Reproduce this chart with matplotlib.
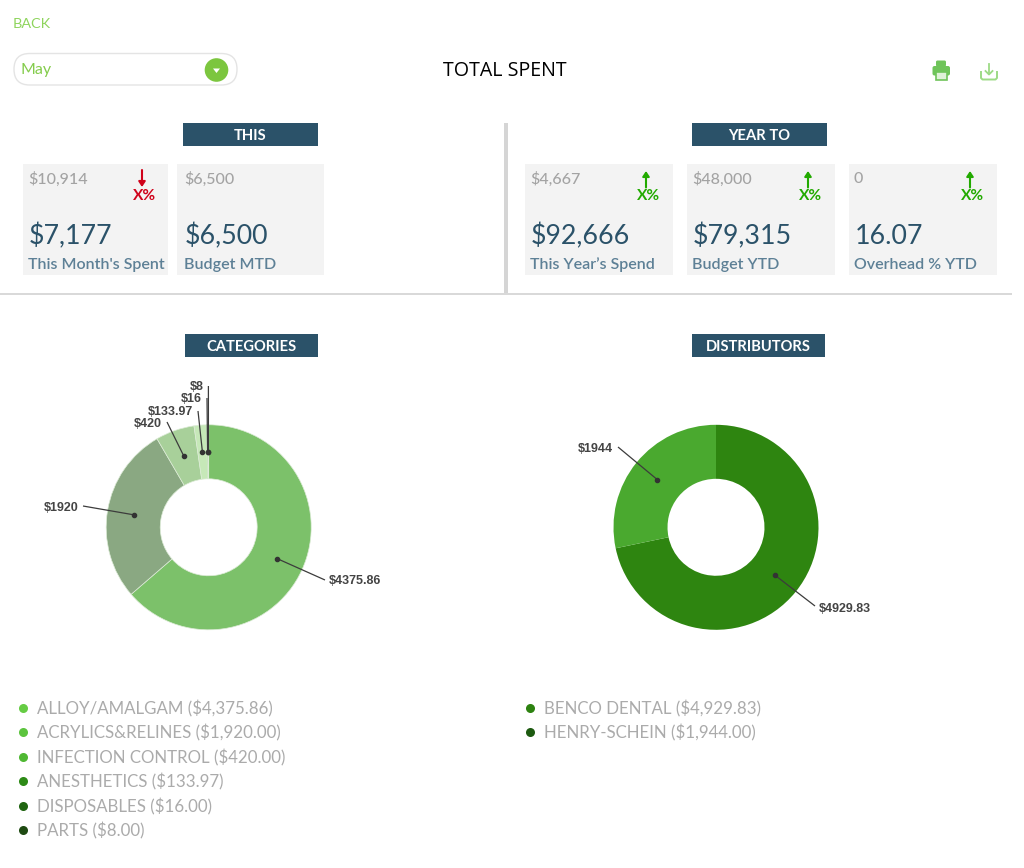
# Total spent dashboard

# Load Libraries
import matplotlib
matplotlib.use('Agg')
import numpy as np
import matplotlib.pyplot as plt
from matplotlib.patches import Rectangle, FancyBboxPatch, Circle, Polygon

W, H = 1024, 868

# Data
categories = ['ALLOY/AMALGAM', 'ACRYLICS&RELINES', 'INFECTION CONTROL',
              'ANESTHETICS', 'DISPOSABLES', 'PARTS']
category_values = [4375.86, 1920.00, 420.00, 133.97, 16.00, 8.00]
category_labels = ['$4375.86', '$1920', '$420', '$133.97', '$16', '$8']

distributors = ['BENCO DENTAL', 'HENRY-SCHEIN']
distributor_values = [4929.83, 1944.00]
distributor_labels = ['$4929.83', '$1944']

card_top = ['$10,914', '$6,500', '$4,667', '$48,000', '0']
card_main = ['$7,177', '$6,500', '$92,666', '$79,315', '16.07']
card_names = ["This Month's Spent", 'Budget MTD', 'This Year\u2019s Spend', 'Budget YTD', 'Overhead % YTD']
card_trend = ['down', None, 'up', 'up', 'up']

# Styles
NAVY = '#2b5269'
GREEN = '#7cc63f'
GREY = '#a3a3a3'
category_colors = ['#7cc16a', '#8aa882', '#a8d09a', '#c6e8b8', '#7cc16a', '#8aa882']
distributor_colors = ['#2e8510', '#4aa92f']
category_dots = ['#66cc44', '#5cc43e', '#4fb833', '#2d8a16', '#1f6410', '#1e4a12']
distributor_dots = ['#2d8210', '#1d5a10']
card_x = [(23, 168), (177, 324), (525, 673), (687, 835), (849, 997)]
card_pad = [5, 7, 5, 5, 5]
trend_x = [142, None, 646, 808, 970]

plt.rcParams['font.family'] = ['Lato', 'DejaVu Sans']

fig = plt.figure(figsize=(W / 100, H / 100), dpi=100)
fig.patch.set_facecolor('white')


def px(size):
    return size * 0.72


def donut(values, colors, cx, cy, edge, r=102.5):
    pie_ax = fig.add_axes([(cx - r) / W, 1 - (cy + r) / H, 2 * r / W, 2 * r / H])
    pie_ax.pie(values, colors=colors, startangle=90, counterclock=False, radius=1,
               wedgeprops=dict(width=0.527, linewidth=0.5, edgecolor=edge))
    pie_ax.set_xlim(-1, 1)
    pie_ax.set_ylim(-1, 1)
    # Middle of each slice, for the leader dots
    ends = np.cumsum(values) / np.sum(values) * 360
    mids = ends - np.array(values) / np.sum(values) * 180
    return cx + 75.6 * np.sin(np.radians(mids)), cy - 75.6 * np.cos(np.radians(mids))


dots_x, dots_y = donut(category_values, category_colors, 208.7, 527.3, '#dcebd6')
dist_x, dist_y = donut(distributor_values, distributor_colors, 716, 527.3, 'none')

# Page overlay in pixel coordinates
ax = fig.add_axes([0, 0, 1, 1], zorder=5)
ax.set_xlim(0, W)
ax.set_ylim(H, 0)
ax.axis('off')


def leaders(labels, xs, ys, line_ends, text_pos, has):
    for label, x, y, end, pos, ha in zip(labels, xs, ys, line_ends, text_pos, has):
        ax.plot([x, end[0]], [y, end[1]], color='#3c3c3c', lw=0.9, solid_capstyle='butt')
        ax.plot(x, y, 'o', color='#333333', ms=3)
        ax.text(pos[0], pos[1], label, ha=ha, va='center', fontsize=px(12.5),
                family=['Liberation Sans'], fontweight='bold', color='#444444')


leaders(category_labels, dots_x, dots_y,
        [(325, 580), (83, 506), (167, 422), (198, 411), (207, 398), (208.4, 386)],
        [(329, 581.5), (78.5, 508), (161.5, 424), (193.5, 412), (201.5, 399), (203.5, 387)],
        ['left', 'right', 'right', 'right', 'right', 'right'])
leaders(distributor_labels, dist_x, dist_y,
        [(815, 606), (618, 447)],
        [(819, 609), (612.5, 449.5)],
        ['left', 'right'])

# Top bar
ax.text(13, 23.5, 'BACK', color='#8ed45c', fontsize=px(14.4), va='center')
ax.add_patch(FancyBboxPatch((14, 53.5), 223, 31.5, boxstyle='round,pad=0,rounding_size=15.7',
                            fc='white', ec='#e4e4e4', lw=1))
ax.text(21, 70, 'May', color='#84cc4c', fontsize=px(16), va='center')
ax.add_patch(Circle((216.5, 70), 11.8, fc=GREEN, ec='none'))
ax.add_patch(Polygon([(213, 68.5), (220, 68.5), (216.5, 73)], fc='white', ec='none'))
ax.text(505, 71.5, 'TOTAL SPENT', color='black', fontsize=px(19.6), ha='center', va='center',
        family=['Open Sans'])

# Print icon
ax.add_patch(FancyBboxPatch((936, 60.5), 10, 6, boxstyle='round,pad=0,rounding_size=1.5', fc='#6fc45a', ec='none'))
ax.add_patch(FancyBboxPatch((932.5, 66), 17.5, 9.5, boxstyle='round,pad=0,rounding_size=2', fc='#6fc45a', ec='none'))
ax.add_patch(Rectangle((936, 72), 10.5, 7.5, fc='#dff2d8', ec='#6fc45a', lw=1.2))
# Download icon
ax.plot([981, 981, 982.5, 995.5, 997, 997], [72, 78, 79.5, 79.5, 78, 72], color='#9ddb86', lw=1.4)
ax.plot([989, 989], [63.5, 74], color='#9ddb86', lw=1.3)
ax.plot([985.5, 989, 992.5], [71, 74.5, 71], color='#9ddb86', lw=1.3)


def header(x0, x1, y0, y1, label):
    ax.add_patch(Rectangle((x0, y0), x1 - x0, y1 - y0, fc=NAVY, ec='none'))
    ax.text((x0 + x1) / 2, (y0 + y1) / 2 + 1.5, label, color='white', fontsize=px(14.7),
            fontweight='bold', ha='center', va='center')


header(183, 318, 123, 146, 'THIS')
header(692, 827, 123, 146, 'YEAR TO')
header(185, 318, 334, 357, 'CATEGORIES')
header(692, 825, 334, 357, 'DISTRIBUTORS')

# Dividers
ax.add_patch(Rectangle((504, 123), 3.5, 171, fc='#d5d5d5', ec='none'))
ax.add_patch(Rectangle((0, 292.5), 1012, 2, fc='#d9d9d9', ec='none'))

# Cards
for (x0, x1), pad, top, main, name, trend, tx in zip(card_x, card_pad, card_top, card_main, card_names, card_trend, trend_x):
    ax.add_patch(Rectangle((x0, 164), x1 - x0, 111, fc='#f3f3f3', ec='none'))
    ax.text(x0 + pad, 179, top, color=GREY, fontsize=px(16), va='center', fontweight='medium')
    ax.text(x0 + pad + 0.5, 236, main, color=NAVY, fontsize=px(26.8), va='center')
    name_text = ax.text(x0 + pad, 265, name, color='#5d8096', fontsize=px(16), va='center', fontweight='semibold')
    name_text.set_clip_path(Rectangle((x0, 164), x1 - x0, 105.5, transform=ax.transData))
    if trend == 'down':
        ax.annotate('', xy=(tx, 187), xytext=(tx, 170),
                    arrowprops=dict(arrowstyle='-|>,head_width=0.2,head_length=0.3', color='#d0021b', lw=1.5, shrinkA=0, shrinkB=0))
        ax.text(tx + 3, 196, 'X%', color='#d0021b', fontsize=px(15.5), fontweight='bold', ha='center', va='center')
    elif trend == 'up':
        ax.annotate('', xy=(tx, 171), xytext=(tx, 187.5),
                    arrowprops=dict(arrowstyle='-|>,head_width=0.2,head_length=0.3', color='#22aa00', lw=1.5, shrinkA=0, shrinkB=0))
        ax.text(tx + 3, 196, 'X%', color='#22aa00', fontsize=px(15.5), fontweight='bold', ha='center', va='center')


def legend_list(names, values, colors, dot_x, text_x):
    for i, (name, value, color) in enumerate(zip(names, values, colors)):
        y = 708 + i * 24.4
        ax.plot(dot_x, y, 'o', color=color, ms=6.5, mew=0)
        ax.text(text_x, y + 1, f'{name} (${value:,.2f})', color='#ababab', fontsize=px(16.9), va='center')


legend_list(categories, category_values, category_dots, 23, 37)
legend_list(distributors, distributor_values, distributor_dots, 530, 544)

fig.savefig('out.png', dpi=100)
